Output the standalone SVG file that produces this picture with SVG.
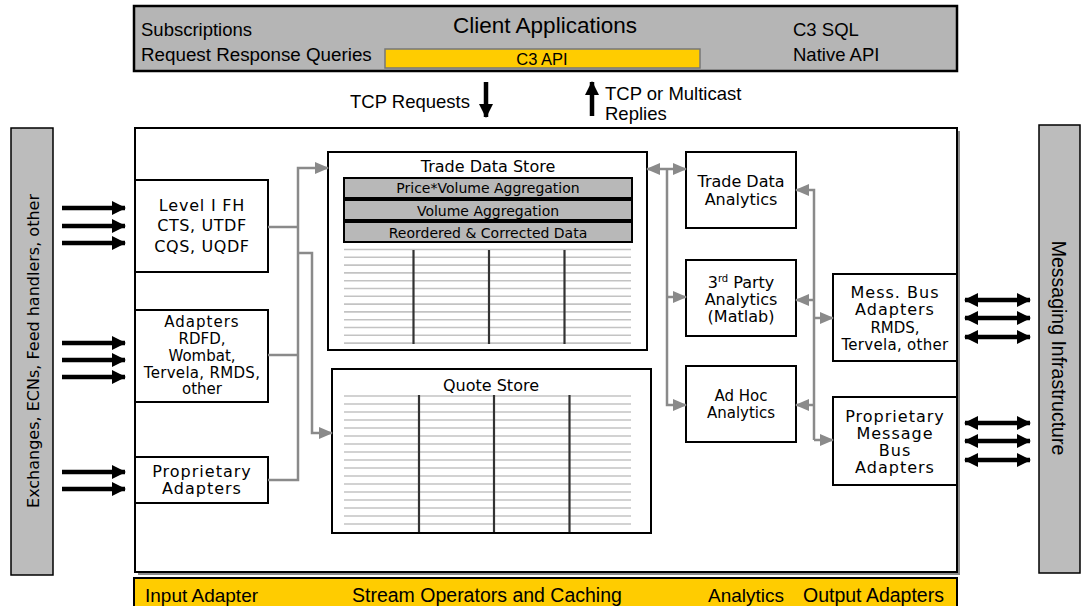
<svg xmlns="http://www.w3.org/2000/svg" width="1084" height="606" viewBox="0 0 1084 606">
<defs>
<marker id="ga" markerUnits="userSpaceOnUse" markerWidth="14" markerHeight="12" refX="13" refY="6" orient="auto-start-reverse"><path d="M0,0 L14,6 L0,12 Z" fill="#8a8a8a"/></marker>
<marker id="ba" markerUnits="userSpaceOnUse" markerWidth="14" markerHeight="14" refX="13" refY="7" orient="auto-start-reverse"><path d="M0,0 L14,7 L0,14 Z" fill="#000"/></marker>
</defs>
<style>
.box{fill:#fff;stroke:#000;stroke-width:2}
.gray{fill:#bcbcbc;stroke:#000;stroke-width:1.5}
.bar{fill:#b8b8b8;stroke:#000;stroke-width:2}
.yel{fill:#ffcc00;stroke:#000;stroke-width:2}
.t{font-family:"Liberation Sans",Arial,sans-serif;fill:#000}
.g{font-family:"DejaVu Sans",Verdana,sans-serif;fill:#000;font-size:16px;text-anchor:middle}
.g15{font-family:"DejaVu Sans",Verdana,sans-serif;fill:#000;font-size:15px;text-anchor:middle}
.s{font-family:"DejaVu Sans",Verdana,sans-serif;fill:#000;font-size:14px;text-anchor:middle}
.con{fill:none;stroke:#8a8a8a;stroke-width:2.5}
.blk{fill:none;stroke:#000;stroke-width:4.5}
.hl{stroke:#c3c3c3;stroke-width:1.6}
.vl{stroke:#333;stroke-width:2.2}
</style>

<g id="client-apps">
<rect x="134" y="6" width="823" height="65" fill="#b5b5b5" stroke="#000" stroke-width="2.5"/>
<text class="t" x="141" y="36" font-size="18.5">Subscriptions</text>
<text class="t" x="545" y="33" font-size="22.5" text-anchor="middle">Client Applications</text>
<text class="t" x="793" y="36" font-size="18.5">C3 SQL</text>
<text class="t" x="141" y="61" font-size="18.8">Request Response Queries</text>
<rect x="385" y="49" width="315" height="19" fill="#ffcc00" stroke="#777" stroke-width="1.5"/>
<text class="t" x="542" y="64.5" font-size="16.5" text-anchor="middle">C3 API</text>
<text class="t" x="793" y="61" font-size="18.5">Native API</text>
</g>

<g id="tcp-labels">
<text class="t" x="350" y="108" font-size="18.5">TCP Requests</text>
<text class="t" x="605" y="100" font-size="18.5">TCP or Multicast</text>
<text class="t" x="605" y="120" font-size="18.5">Replies</text>
</g>

<g id="exchanges">
<rect class="gray" x="11" y="128" width="42" height="447"/>
<text class="g" transform="translate(39,351) rotate(-90)" font-size="18.5">Exchanges, ECNs, Feed handlers, other</text>
</g>

<g id="messaging-infra">
<rect class="gray" x="1039" y="125" width="41" height="448"/>
<text class="t" transform="translate(1052,348) rotate(90)" font-size="19.5" text-anchor="middle">Messaging Infrastructure</text>
</g>

<g id="main-frame">
<rect x="138" y="131" width="822" height="444" fill="#8a8a8a"/>
<rect x="135" y="128" width="822" height="444" fill="#fff" stroke="#000" stroke-width="2"/>
</g>

<g id="bottom-bar">
<rect class="yel" x="134" y="578" width="823" height="32"/>
<text class="t" x="145" y="602" font-size="19">Input Adapter</text>
<text class="t" x="352" y="602" font-size="19.5">Stream Operators and Caching</text>
<text class="t" x="708" y="602" font-size="19">Analytics</text>
<text class="t" x="803" y="602" font-size="19.5">Output Adapters</text>
</g>

<g id="level1-fh">
<rect class="box" x="135" y="180" width="133" height="92"/>
<text class="g" x="202" y="211" letter-spacing="0.8">Level I FH</text>
<text class="g" x="202" y="231" letter-spacing="0.6">CTS, UTDF</text>
<text class="g" x="202" y="252" letter-spacing="0.6">CQS, UQDF</text>
</g>

<g id="adapters">
<rect class="box" x="135" y="310" width="133" height="92"/>
<text class="g15" x="202" y="327" letter-spacing="1">Adapters</text>
<text class="g15" x="202" y="344">RDFD,</text>
<text class="g15" x="202" y="361">Wombat,</text>
<text class="g15" x="202" y="378" letter-spacing="0.3">Tervela, RMDS,</text>
<text class="g15" x="202" y="394">other</text>
</g>

<g id="proprietary-adapters">
<rect class="box" x="135" y="457" width="133" height="46"/>
<text class="g" x="202" y="477" letter-spacing="1">Proprietary</text>
<text class="g" x="202" y="494" letter-spacing="1">Adapters</text>
</g>

<g id="trade-data-store">
<rect class="box" x="328" y="152" width="319" height="198"/>
<text class="g" x="488" y="172" font-size="17.5">Trade Data Store</text>
<rect class="bar" x="344" y="178" width="288" height="20"/>
<text class="s" x="488" y="193">Price*Volume Aggregation</text>
<rect class="bar" x="344" y="200" width="288" height="20"/>
<text class="s" x="488" y="216">Volume Aggregation</text>
<rect class="bar" x="344" y="222" width="288" height="20"/>
<text class="s" x="488" y="238">Reordered &amp; Corrected Data</text>
<g>
<line class="hl" x1="344" y1="249.5" x2="631" y2="249.5"/>
<line class="hl" x1="344" y1="257.3" x2="631" y2="257.3"/>
<line class="hl" x1="344" y1="265.1" x2="631" y2="265.1"/>
<line class="hl" x1="344" y1="272.9" x2="631" y2="272.9"/>
<line class="hl" x1="344" y1="280.7" x2="631" y2="280.7"/>
<line class="hl" x1="344" y1="288.5" x2="631" y2="288.5"/>
<line class="hl" x1="344" y1="296.3" x2="631" y2="296.3"/>
<line class="hl" x1="344" y1="304.1" x2="631" y2="304.1"/>
<line class="hl" x1="344" y1="311.9" x2="631" y2="311.9"/>
<line class="hl" x1="344" y1="319.7" x2="631" y2="319.7"/>
<line class="hl" x1="344" y1="327.5" x2="631" y2="327.5"/>
<line class="hl" x1="344" y1="335.3" x2="631" y2="335.3"/>
<line class="hl" x1="344" y1="343.1" x2="631" y2="343.1"/>
<line class="vl" x1="413.5" y1="250" x2="413.5" y2="344"/>
<line class="vl" x1="489" y1="250" x2="489" y2="344"/>
<line class="vl" x1="564.5" y1="250" x2="564.5" y2="344"/>
</g>
</g>

<g id="quote-store">
<rect class="box" x="332" y="369" width="319" height="164"/>
<text class="g" x="491" y="391" font-size="17.5">Quote Store</text>
<g>
<line class="hl" x1="344" y1="396" x2="631" y2="396"/>
<line class="hl" x1="344" y1="404" x2="631" y2="404"/>
<line class="hl" x1="344" y1="412" x2="631" y2="412"/>
<line class="hl" x1="344" y1="420" x2="631" y2="420"/>
<line class="hl" x1="344" y1="428" x2="631" y2="428"/>
<line class="hl" x1="344" y1="436" x2="631" y2="436"/>
<line class="hl" x1="344" y1="444" x2="631" y2="444"/>
<line class="hl" x1="344" y1="452" x2="631" y2="452"/>
<line class="hl" x1="344" y1="460" x2="631" y2="460"/>
<line class="hl" x1="344" y1="468" x2="631" y2="468"/>
<line class="hl" x1="344" y1="476" x2="631" y2="476"/>
<line class="hl" x1="344" y1="484" x2="631" y2="484"/>
<line class="hl" x1="344" y1="492" x2="631" y2="492"/>
<line class="hl" x1="344" y1="500" x2="631" y2="500"/>
<line class="hl" x1="344" y1="508" x2="631" y2="508"/>
<line class="hl" x1="344" y1="516" x2="631" y2="516"/>
<line class="hl" x1="344" y1="524" x2="631" y2="524"/>
<line class="vl" x1="419" y1="395" x2="419" y2="532"/>
<line class="vl" x1="494" y1="395" x2="494" y2="532"/>
<line class="vl" x1="569.5" y1="395" x2="569.5" y2="532"/>
</g>
</g>

<g id="trade-data-analytics">
<rect class="box" x="686" y="152" width="110" height="76"/>
<text class="g" x="741" y="187">Trade Data</text>
<text class="g" x="741" y="205">Analytics</text>
</g>

<g id="third-party-analytics">
<rect class="box" x="686" y="260" width="110" height="76"/>
<text class="g" x="741" y="288">3<tspan font-size="10" dy="-6">rd</tspan><tspan dy="6"> Party</tspan></text>
<text class="g" x="741" y="305">Analytics</text>
<text class="g" x="741" y="322">(Matlab)</text>
</g>

<g id="adhoc-analytics">
<rect class="box" x="686" y="366" width="110" height="76"/>
<text class="g15" x="741" y="401">Ad Hoc</text>
<text class="g15" x="741" y="418">Analytics</text>
</g>

<g id="mess-bus-adapters">
<rect class="box" x="833" y="274" width="124" height="87"/>
<text class="g" x="895" y="298" letter-spacing="1">Mess. Bus</text>
<text class="g" x="895" y="315" letter-spacing="1">Adapters</text>
<text class="g15" x="895" y="333">RMDS,</text>
<text class="g15" x="895" y="349.5" letter-spacing="0.3">Tervela, other</text>
</g>

<g id="prop-message-bus-adapters">
<rect class="box" x="833" y="397" width="124" height="88"/>
<text class="g" x="895" y="422" letter-spacing="1">Proprietary</text>
<text class="g" x="895" y="439" letter-spacing="1">Message</text>
<text class="g" x="895" y="456" letter-spacing="1">Bus</text>
<text class="g" x="895" y="473" letter-spacing="1">Adapters</text>
</g>

<g id="connectors">
<path class="con" d="M268,227 H298"/>
<path class="con" d="M268,355 H298"/>
<path class="con" d="M268,480 H298 V168 H328" marker-end="url(#ga)"/>
<path class="con" d="M298,253 H312 V433 H332" marker-end="url(#ga)"/>
<path class="con" d="M647,169 H686" marker-start="url(#ga)" marker-end="url(#ga)"/>
<path class="con" d="M667,169 V405 H686" marker-end="url(#ga)"/>
<path class="con" d="M667,297 H686" marker-end="url(#ga)"/>
<path class="con" d="M814,440 V190 H796" marker-end="url(#ga)"/>
<path class="con" d="M814,300 H796" marker-end="url(#ga)"/>
<path class="con" d="M814,405 H796" marker-end="url(#ga)"/>
<path class="con" d="M814,318 H833" marker-end="url(#ga)"/>
<path class="con" d="M814,440 H833" marker-end="url(#ga)"/>

<path class="blk" d="M486,82 V117" marker-end="url(#ba)"/>
<path class="blk" d="M592,116 V82" marker-end="url(#ba)"/>

<path class="blk" d="M62,208 H125" marker-end="url(#ba)"/>
<path class="blk" d="M62,226 H125" marker-end="url(#ba)"/>
<path class="blk" d="M62,243 H125" marker-end="url(#ba)"/>
<path class="blk" d="M62,343 H125" marker-end="url(#ba)"/>
<path class="blk" d="M62,360 H125" marker-end="url(#ba)"/>
<path class="blk" d="M62,377 H125" marker-end="url(#ba)"/>
<path class="blk" d="M62,472 H125" marker-end="url(#ba)"/>
<path class="blk" d="M62,489 H125" marker-end="url(#ba)"/>

<path class="blk" d="M965,300 H1030" marker-start="url(#ba)" marker-end="url(#ba)"/>
<path class="blk" d="M965,318 H1030" marker-start="url(#ba)" marker-end="url(#ba)"/>
<path class="blk" d="M965,337 H1030" marker-start="url(#ba)" marker-end="url(#ba)"/>
<path class="blk" d="M965,423 H1030" marker-start="url(#ba)" marker-end="url(#ba)"/>
<path class="blk" d="M965,441 H1030" marker-start="url(#ba)" marker-end="url(#ba)"/>
<path class="blk" d="M965,460 H1030" marker-start="url(#ba)" marker-end="url(#ba)"/>
</g>
</svg>
